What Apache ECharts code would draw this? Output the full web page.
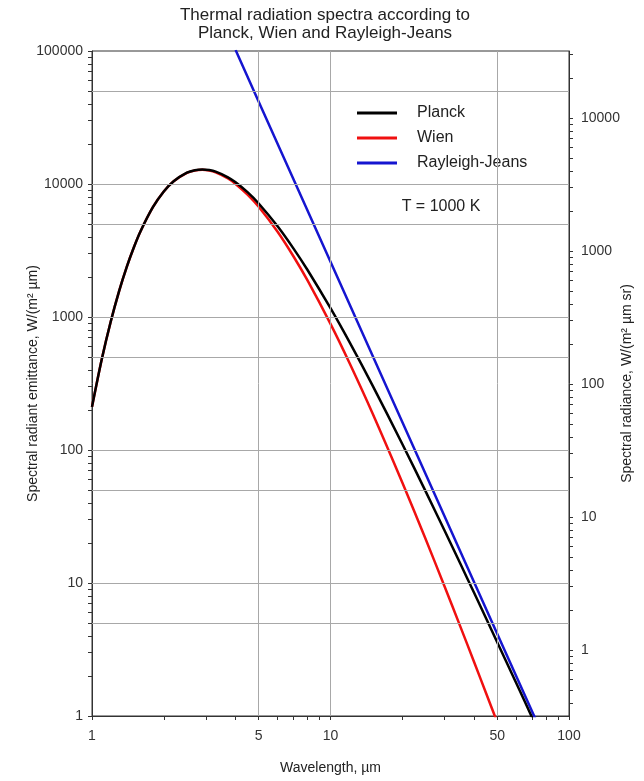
<!DOCTYPE html>
<html>
<head>
<meta charset="utf-8">
<title>Thermal radiation spectra</title>
<script src="https://cdn.jsdelivr.net/npm/echarts@6/dist/echarts.min.js"></script>
<style>
    html, body { margin: 0; background: #fff; }
    #chart { width: 644px; height: 781px; }
</style>
</head>
<body>
<div id="chart"></div>
<script>
// wavelengths in µm, emittance in W/(m² µm) (T = 1000 K)
var wavelengths = [1, 1.1, 1.2, 1.3, 1.4, 1.5, 1.6, 1.8, 2, 2.2, 2.5, 2.7, 2.9, 3.1, 3.3, 3.7, 4, 4.5, 5, 6, 7, 8, 10, 12, 15, 20, 25, 30, 35, 40, 45, 50, 60, 70, 80];
var planck = [211, 485, 933, 1573, 2394, 3364, 4438, 6690, 8789, 10503, 12172, 12708, 12866, 12729, 12376, 11279, 10296, 8641, 7140, 4812, 3269, 2266, 1164, 649, 306, 111, 49.3, 25.0, 14.0, 8.44, 5.38, 3.59, 1.78, 0.976, 0.580];
var wien = [211, 485, 933, 1573, 2394, 3364, 4437, 6688, 8782, 10488, 12133, 12646, 12776, 12606, 12217, 11048, 10014, 8288, 6738, 4374, 2851, 1891, 888, 453, 189, 57.0, 21.6, 9.53, 4.72, 2.55, 1.47, 0.898, 0.379, 0.181, 0.095];
var rjWavelengths = [4, 5, 10, 20, 50, 75];
var rayleighJeans = [101600, 41610, 2601, 162.5, 4.16, 0.822];

var xLabels = [1, 5, 10, 50, 100];
var yLabels = [1, 10, 100, 1000, 10000, 100000];
var rightLabels = [1, 10, 100, 1000, 10000];
var xGrid = [5, 10, 50];
var yGrid = [5, 10, 50, 100, 500, 1000, 5000, 10000, 50000];

// 1..9 x 10^n tick positions inside [lo, hi]
function logTicks(lo, hi) {
    var out = [];
    for (var p = -2; p <= 6; p++) {
        for (var m = 1; m < 10; m++) {
            var v = parseFloat((m * Math.pow(10, p)).toPrecision(6));
            if (v >= lo - 1e-9 && v <= hi + 1e-9) out.push(v);
        }
    }
    return out;
}

function pairs(xs, ys) {
    return xs.map(function (x, i) { return [x, ys[i]]; });
}

var font = 'Liberation Sans, Arial, sans-serif';
var rMin = 1 / Math.PI, rMax = 100000 / Math.PI;

var chart = echarts.init(document.getElementById('chart'));
chart.setOption({
    animation: false,
    textStyle: { fontFamily: font },
    title: {
        text: 'Thermal radiation spectra according to\nPlanck, Wien and Rayleigh-Jeans',
        left: 320,
        top: 1,
        textAlign: 'center',
        textStyle: { fontSize: 17, fontWeight: 'normal', color: '#222', lineHeight: 18, fontFamily: font }
    },
    grid: {
        left: 92, right: 75, top: 51, bottom: 65,
        outerBoundsMode: 'none',
        containLabel: false,
        show: true, borderColor: '#333', borderWidth: 1
    },
    legend: {
        data: ['Planck', 'Wien', 'Rayleigh-Jeans'],
        orient: 'vertical',
        left: 347,
        top: 92,
        padding: [13, 20, 13, 10],
        itemGap: 9,
        itemWidth: 40,
        itemHeight: 3,
        icon: 'rect',
        backgroundColor: '#fff',
        textStyle: { fontSize: 16, color: '#222', padding: [0, 0, 0, 15], fontFamily: font }
    },
    graphic: [{
        type: 'group',
        children: [
            { type: 'rect', shape: { x: 347, y: 187, width: 220, height: 34 }, style: { fill: '#fff' } },
            { type: 'text', x: 441, y: 207, style: { text: 'T = 1000 K', fontSize: 16, fill: '#222', align: 'center', verticalAlign: 'middle', fontFamily: font } }
        ]
    }],
    xAxis: {
        type: 'log', logBase: 10, min: 1, max: 100,
        name: 'Wavelength, µm', nameLocation: 'middle', nameGap: 45, nameMoveOverlap: false,
        nameTextStyle: { fontSize: 14, color: '#222' },
        axisLine: { lineStyle: { color: '#333' } },
        axisTick: { inside: false, length: 4, customValues: logTicks(1, 100), lineStyle: { color: '#333' } },
        axisLabel: { customValues: xLabels, margin: 13, fontSize: 14, color: '#333', formatter: function (v) { return String(v); } },
        splitLine: { show: false }
    },
    yAxis: [{
        type: 'log', logBase: 10, min: 1, max: 100000,
        name: 'Spectral radiant emittance, W/(m² µm)', nameLocation: 'middle', nameGap: 52, nameRotate: 90, nameMoveOverlap: false,
        nameTextStyle: { fontSize: 14, color: '#222' },
        axisLine: { show: true, lineStyle: { color: '#333' } },
        axisTick: { show: true, length: 4, customValues: logTicks(1, 100000), lineStyle: { color: '#333' } },
        axisLabel: { customValues: yLabels, margin: 9, fontSize: 14, color: '#333', formatter: function (v) { return String(v); } },
        splitLine: { show: false }
    }, {
        type: 'log', logBase: 10, min: rMin, max: rMax, position: 'right',
        name: 'Spectral radiance, W/(m² µm sr)', nameLocation: 'middle', nameGap: 51, nameRotate: 90, nameMoveOverlap: false,
        nameTextStyle: { fontSize: 14, color: '#222' },
        axisLine: { show: true, lineStyle: { color: '#333' } },
        axisTick: { show: true, length: 4, customValues: logTicks(rMin, rMax), lineStyle: { color: '#333' } },
        axisLabel: { customValues: rightLabels, margin: 12, fontSize: 14, color: '#333', formatter: function (v) { return String(v); } },
        splitLine: { show: false }
    }],
    series: [{
        name: 'grid',
        type: 'line',
        data: [],
        silent: true,
        z: 1,
        markLine: {
            silent: true,
            symbol: ['none', 'none'],
            label: { show: false },
            emphasis: { disabled: true },
            lineStyle: { color: '#a8a8a8', width: 1, type: 'solid' },
            data: yGrid.map(function (v) { return { yAxis: v }; })
                .concat(xGrid.map(function (v) { return { xAxis: v }; }))
        }
    }, {
        name: 'Rayleigh-Jeans',
        type: 'line',
        data: pairs(rjWavelengths, rayleighJeans),
        symbol: 'none',
        lineStyle: { color: '#1515d0', width: 2.5 },
        itemStyle: { color: '#1515d0' },
        z: 3
    }, {
        name: 'Wien',
        type: 'line',
        data: pairs(wavelengths, wien),
        symbol: 'none',
        smooth: 0.3,
        lineStyle: { color: '#f01010', width: 2.5 },
        itemStyle: { color: '#f01010' },
        z: 3
    }, {
        name: 'Planck',
        type: 'line',
        data: pairs(wavelengths, planck),
        symbol: 'none',
        smooth: 0.3,
        lineStyle: { color: '#000', width: 2.5 },
        itemStyle: { color: '#000' },
        z: 4
    }]
});
</script>
</body>
</html>
